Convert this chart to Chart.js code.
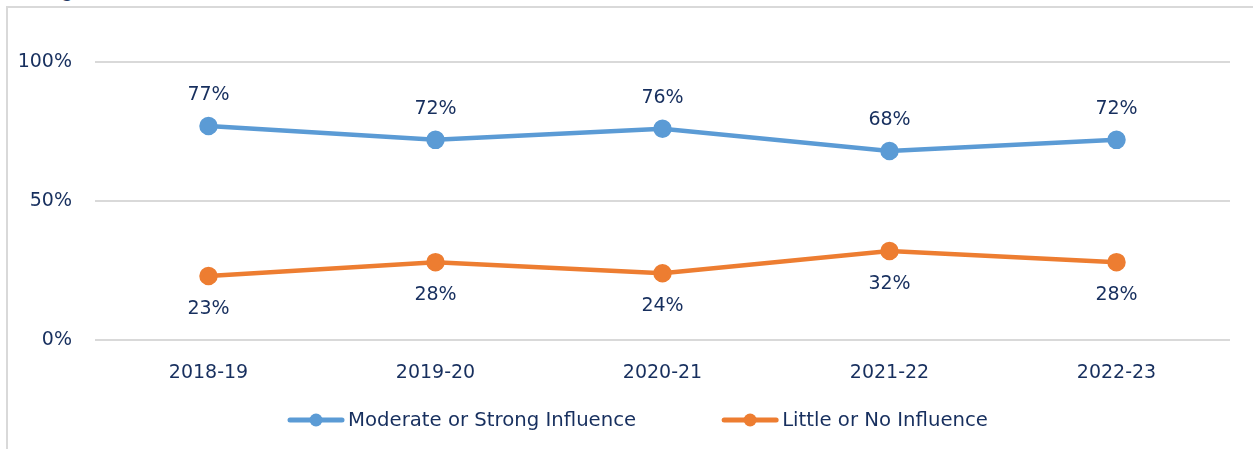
<!DOCTYPE html>
<html>
<head>
<meta charset="utf-8">
<script src="https://cdn.jsdelivr.net/npm/chart.js@4"></script>
<style>
  html, body { margin: 0; padding: 0; background: #fff; }
  #wrap { position: relative; width: 1253px; height: 449px; overflow: hidden; }
  #frame { position: absolute; left: 6px; top: 6px; width: 1400px; height: 600px;
           border-left: 2px solid #d9d9d9; border-top: 2px solid #d9d9d9; }
  #titulo { position: absolute; left: 12px; top: -20px; font: bold 20px "Liberation Sans", sans-serif;
            line-height: 20px; color: #1F3864; white-space: nowrap; }
  #grafico { position: absolute; left: 0; top: 0; }
</style>
</head>
<body>
<div id="wrap">
  <div id="frame"></div>
  <div id="titulo">College</div>
  <canvas id="grafico" width="1253" height="449"></canvas>
</div>
<script>
const anios = ['2018-19', '2019-20', '2020-21', '2021-22', '2022-23'];
const influenciaFuerte = [77, 72, 76, 68, 72];
const influenciaPoca = [23, 28, 24, 32, 28];
const nombresSeries = ['Moderate or Strong Influence', 'Little or No Influence'];
const ticksY = [0, 50, 100];

const azul = '#5B9BD5';
const naranja = '#ED7D31';
const textoColor = '#172F5E';
const fuente = '"DejaVu Sans", sans-serif';

// etiquetas de valor: azul arriba, naranja abajo
const etiquetas = {
  id: 'etiquetas',
  afterDatasetsDraw(chart) {
    const ctx = chart.ctx;
    ctx.save();
    ctx.font = '19px ' + fuente;
    ctx.fillStyle = textoColor;
    ctx.textAlign = 'center';
    ctx.textBaseline = 'middle';
    chart.data.datasets.forEach((ds, i) => {
      const meta = chart.getDatasetMeta(i);
      meta.data.forEach((pt, j) => {
        const dy = i === 0 ? -31 : 33;
        ctx.fillText(ds.data[j] + '%', pt.x, pt.y + dy);
      });
    });
    ctx.restore();
  }
};

// leyenda dibujada a mano para copiar el espaciado
const leyenda = {
  id: 'leyenda',
  afterDraw(chart) {
    const ctx = chart.ctx;
    ctx.save();
    ctx.font = '19.7px ' + fuente;
    const largoLinea = 56, hueco = 4, separacion = 86;
    const items = chart.data.datasets.map(ds => ({
      texto: ds.label, color: ds.borderColor, ancho: largoLinea + hueco + ctx.measureText(ds.label).width
    }));
    const total = items.reduce((s, it) => s + it.ancho, 0) + separacion * (items.length - 1);
    let x = 638 - total / 2;
    const y = 420;
    items.forEach(it => {
      ctx.strokeStyle = it.color;
      ctx.lineWidth = 5;
      ctx.lineCap = 'round';
      ctx.beginPath();
      ctx.moveTo(x + 2, y);
      ctx.lineTo(x + largoLinea - 2, y);
      ctx.stroke();
      ctx.fillStyle = it.color;
      ctx.beginPath();
      ctx.arc(x + largoLinea / 2, y, 6.5, 0, Math.PI * 2);
      ctx.fill();
      ctx.fillStyle = textoColor;
      ctx.textAlign = 'left';
      ctx.textBaseline = 'middle';
      ctx.fillText(it.texto, x + largoLinea + hueco, y + 1);
      x += it.ancho + separacion;
    });
    ctx.restore();
  }
};

new Chart(document.getElementById('grafico').getContext('2d'), {
  type: 'line',
  data: {
    labels: anios,
    datasets: [{
      label: nombresSeries[0],
      data: influenciaFuerte,
      borderColor: azul,
      backgroundColor: azul,
      borderWidth: 4.5,
      pointRadius: 7,
      pointHoverRadius: 7,
      tension: 0
    }, {
      label: nombresSeries[1],
      data: influenciaPoca,
      borderColor: naranja,
      backgroundColor: naranja,
      borderWidth: 4.5,
      pointRadius: 7,
      pointHoverRadius: 7,
      tension: 0
    }]
  },
  options: {
    responsive: false,
    animation: false,
    layout: { padding: { left: 0, right: 23, top: 62, bottom: 59 } },
    plugins: {
      legend: { display: false },
      tooltip: { enabled: false }
    },
    scales: {
      x: {
        offset: true,
        grid: { display: false, drawTicks: false },
        border: { display: false },
        ticks: { color: textoColor, font: { family: fuente, size: 19 }, padding: 22, maxRotation: 0 },
        afterFit(scale) { scale.height = 50; }
      },
      y: {
        min: 0,
        max: 100,
        afterBuildTicks(scale) { scale.ticks = ticksY.map(v => ({ value: v })); },
        grid: { color: '#d9d9d9', lineWidth: 2, drawTicks: false },
        border: { display: false },
        ticks: { color: textoColor, font: { family: fuente, size: 19 }, padding: 23,
                 callback: v => v + '%' },
        afterFit(scale) { scale.width = 95; }
      }
    }
  },
  plugins: [etiquetas, leyenda]
});
</script>
</body>
</html>
